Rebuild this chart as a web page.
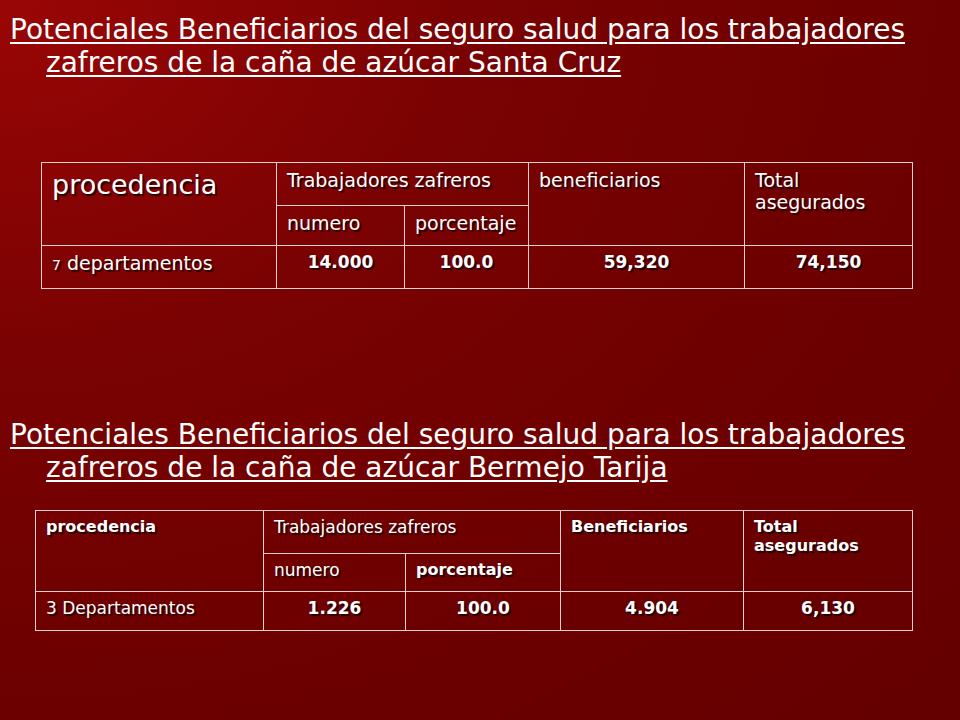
<!DOCTYPE html>
<html>
<head>
<meta charset="utf-8">
<script src="https://cdn.jsdelivr.net/npm/chart.js@4"></script>
<style>
  html, body { margin: 0; padding: 0; }
  body {
    width: 960px; height: 720px; overflow: hidden; position: relative;
    background: radial-gradient(ellipse at 0% 0%, #9a0606 0%, #7a0202 35%, #6c0000 70%, #640000 100%);
    font-family: "DejaVu Sans", Verdana, sans-serif; color: #fff;
  }
  .title {
    position: absolute; left: 10px; font-size: 28px; line-height: 33px;
    text-decoration: underline; text-underline-offset: 3px;
    font-family: "DejaVu Sans", sans-serif; letter-spacing: 0px; white-space: nowrap;
  }
  .title span { display: block; padding-left: 36px; }
  .title span:first-child { padding-left: 0; }
  table { position: absolute; border-collapse: collapse; }
  td { border: 1px solid #e8d0d0; vertical-align: top; padding: 6px 10px;
       text-shadow: 2px 2px 1px #200; font-size: 19px; }
  td.num { text-align: center; font-weight: bold; font-size: 17px; }
  #tab2 td { font-size: 17px; }
  #tab2 td.hd { font-weight: bold; font-size: 16px; }
</style>
</head>
<body>
<div class="title" style="top:13px"><span id="t1a"></span><span id="t1b"></span></div>
<table id="tab1" style="left:41px; top:162px; width:872px"></table>
<div class="title" style="top:418px"><span id="t2a"></span><span id="t2b"></span></div>
<table id="tab2" style="left:35px; top:510px; width:878px"></table>
<script>
// textos y datos
const titulo1 = ['Potenciales Beneficiarios del seguro salud para los trabajadores', 'zafreros de la caña de azúcar Santa Cruz'];
const titulo2 = ['Potenciales Beneficiarios del seguro salud para los trabajadores', 'zafreros de la caña de azúcar Bermejo Tarija'];
const encabezados1 = ['procedencia', 'Trabajadores zafreros', 'beneficiarios', 'Total asegurados'];
const encabezados2 = ['procedencia', 'Trabajadores zafreros', 'Beneficiarios', 'Total asegurados'];
const subEncabezados = ['numero', 'porcentaje'];
const fila1 = ['7 departamentos', '14.000', '100.0', '59,320', '74,150'];
const fila2 = ['3 Departamentos', '1.226', '100.0', '4.904', '6,130'];

document.getElementById('t1a').textContent = titulo1[0];
document.getElementById('t1b').textContent = titulo1[1];
document.getElementById('t2a').textContent = titulo2[0];
document.getElementById('t2b').textContent = titulo2[1];

function buildTable(id, head, row, widths, heights, big) {
    const t = document.getElementById(id);
    const cols = widths.map(w => `<col style="width:${w}px">`).join('');
    let html = `<colgroup>${cols}</colgroup>`;
    const f0 = big ? 'font-size:27px' : '';
    html += `<tr style="height:${heights[0]}px"><td class="hd" rowspan="2" style="${f0}">${head[0]}</td>` +
        `<td colspan="2">${head[1]}</td><td class="hd" rowspan="2">${head[2]}</td><td class="hd" rowspan="2">${head[3]}</td></tr>`;
    html += `<tr style="height:${heights[1]}px"><td>${subEncabezados[0]}</td><td class="hd">${subEncabezados[1]}</td></tr>`;
    html += `<tr style="height:${heights[2]}px"><td>${big ? '<span style="font-size:14px">7</span> departamentos' : row[0]}</td>` +
        row.slice(1).map(v => `<td class="num">${v}</td>`).join('') + '</tr>';
    t.innerHTML = html;
}
buildTable('tab1', encabezados1, fila1, [235, 128, 124, 216, 168], [43, 40, 43], true);
buildTable('tab2', encabezados2, fila2, [228, 142, 155, 183, 169], [43, 38, 39], false);
</script>
</body>
</html>
